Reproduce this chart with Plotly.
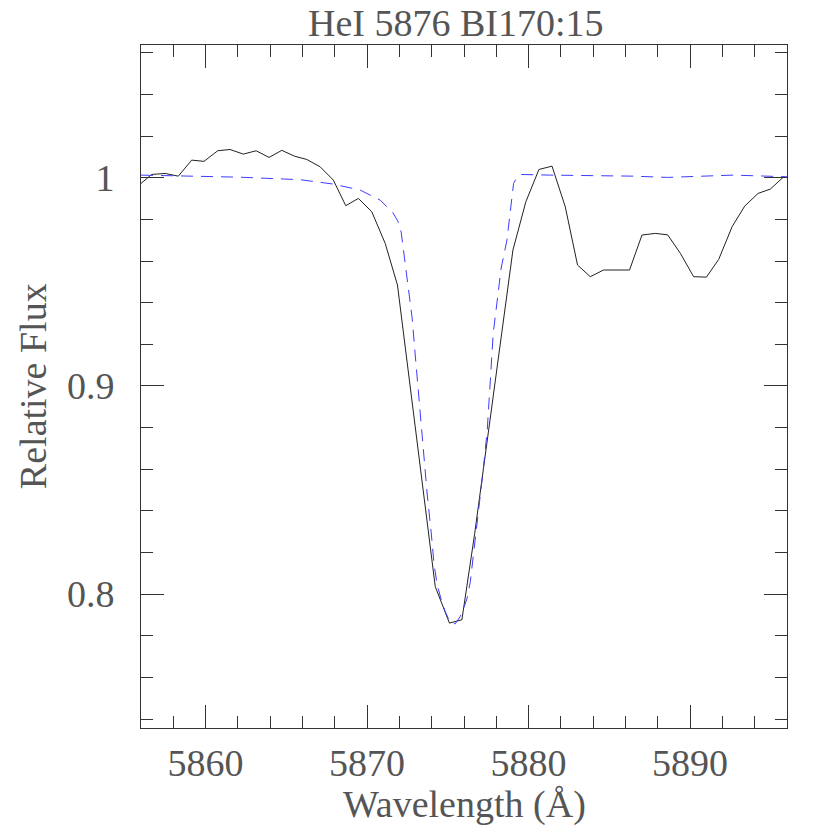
import plotly.graph_objects as go

# Observed spectrum (black solid)
obs_wave = [5856.00, 5856.66, 5857.49, 5858.31, 5859.14, 5859.90, 5860.75, 5861.51,
            5862.34, 5863.13, 5863.93, 5864.72, 5865.50, 5866.27, 5867.09, 5867.91,
            5868.68, 5869.46, 5870.29, 5871.12, 5871.88, 5872.68, 5873.45, 5874.22,
            5875.10, 5875.87, 5876.66, 5877.47, 5878.24, 5879.03, 5879.83, 5880.64,
            5881.45, 5882.27, 5883.03, 5883.82, 5884.64, 5885.47, 5886.25, 5887.02,
            5887.85, 5888.61, 5889.40, 5890.22, 5891.01, 5891.77, 5892.60, 5893.38,
            5894.21, 5894.97, 5895.80]
obs_flux = [0.9973, 1.0016, 1.0021, 1.0008, 1.0085, 1.0079, 1.0130, 1.0136,
            1.0114, 1.0130, 1.0098, 1.0132, 1.0104, 1.0088, 1.0053, 0.9989,
            0.9866, 0.9901, 0.9837, 0.9685, 0.9485, 0.8990, 0.8506, 0.8036,
            0.7861, 0.7877, 0.8290, 0.8760, 0.9221, 0.9653, 0.9885, 1.0040,
            1.0056, 0.9861, 0.9581, 0.9525, 0.9557, 0.9558, 0.9557, 0.9725,
            0.9733, 0.9726, 0.9637, 0.9525, 0.9523, 0.9608, 0.9765, 0.9864,
            0.9925, 0.9946, 1.0005]

# Model profile (blue dashed)
mod_wave = [5856.00, 5862.13, 5865.85, 5867.90, 5869.57, 5870.81, 5871.61, 5871.92,
            5872.11, 5872.36, 5872.60, 5872.79, 5872.98, 5873.16, 5873.35, 5873.53,
            5873.72, 5873.97, 5874.15, 5874.34, 5874.59, 5874.84, 5875.15, 5875.45,
            5875.76, 5876.01, 5876.20, 5876.39, 5876.57, 5876.76, 5877.00, 5877.19,
            5877.44, 5877.62, 5877.81, 5878.06, 5878.30, 5878.66, 5879.07, 5879.30,
            5879.48, 5881.34, 5886.48, 5888.59, 5890.20, 5892.68, 5896.00]
mod_flux = [1.0013, 1.0003, 0.9991, 0.9970, 0.9941, 0.9893, 0.9831, 0.9789,
            0.9739, 0.9595, 0.9461, 0.9326, 0.9149, 0.8981, 0.8789, 0.8621,
            0.8481, 0.8294, 0.8141, 0.8045, 0.7973, 0.7915, 0.7864, 0.7857,
            0.7892, 0.7939, 0.7982, 0.8059, 0.8174, 0.8299, 0.8467, 0.8597,
            0.8789, 0.9014, 0.9254, 0.9413, 0.9566, 0.9701, 0.9973, 1.0006,
            1.0016, 1.0013, 1.0008, 1.0002, 1.0005, 1.0013, 1.0005]

x_tickvals = [5860, 5870, 5880, 5890]
x_ticktext = ["5860", "5870", "5880", "5890"]
y_tickvals = [0.8, 0.9, 1.0]
y_ticktext = ["0.8", "0.9", "1"]

title_text = "HeI 5876 BI170:15"
x_label = "Wavelength (Å)"
y_label = "Relative Flux"

FONT = "Liberation Serif"
TXT = "#555555"
AX = "#333333"

fig = go.Figure()
fig.add_trace(go.Scatter(x=obs_wave, y=obs_flux, mode="lines",
                         line=dict(color="#222222", width=1), showlegend=False))
fig.add_trace(go.Scatter(x=mod_wave, y=mod_flux, mode="lines",
                         line=dict(color="rgb(60,60,255)", width=1, dash="12px,8px"),
                         showlegend=False))

axis_common = dict(showgrid=False, zeroline=False, showline=True, linecolor=AX, linewidth=1,
                   mirror="allticks", ticks="inside", tickcolor=AX, tickwidth=1,
                   tickfont=dict(family=FONT, size=38, color=TXT))

fig.update_xaxes(range=[5856, 5896], tickmode="array", tickvals=x_tickvals, ticktext=x_ticktext,
                 ticklen=23, ticklabelstandoff=1,
                 minor=dict(dtick=2, tick0=5856, ticks="inside", ticklen=12, tickcolor=AX, tickwidth=1),
                 **axis_common)
fig.update_yaxes(range=[0.7357, 1.0638], tickmode="array", tickvals=y_tickvals, ticktext=y_ticktext,
                 ticklen=23, ticklabelstandoff=18,
                 minor=dict(dtick=0.02, tick0=0, ticks="inside", ticklen=12, tickcolor=AX, tickwidth=1),
                 **axis_common)

fig.update_layout(
    width=830, height=830,
    margin=dict(l=133, r=51, t=37, b=110),
    paper_bgcolor="white", plot_bgcolor="white",
    annotations=[
        dict(text=title_text, xref="paper", yref="paper", x=0.4876, y=1.0322,
             xanchor="center", yanchor="middle", showarrow=False,
             font=dict(family=FONT, size=38, color=TXT)),
        dict(text=x_label, xref="paper", yref="paper", x=0.5, y=-0.1127,
             xanchor="center", yanchor="middle", showarrow=False,
             font=dict(family=FONT, size=38, color=TXT)),
        dict(text=y_label, xref="paper", yref="paper", x=-0.167, y=0.5007,
             xanchor="center", yanchor="middle", showarrow=False, textangle=-90,
             font=dict(family=FONT, size=38, color=TXT)),
    ],
)

fig.write_html("out.html")
